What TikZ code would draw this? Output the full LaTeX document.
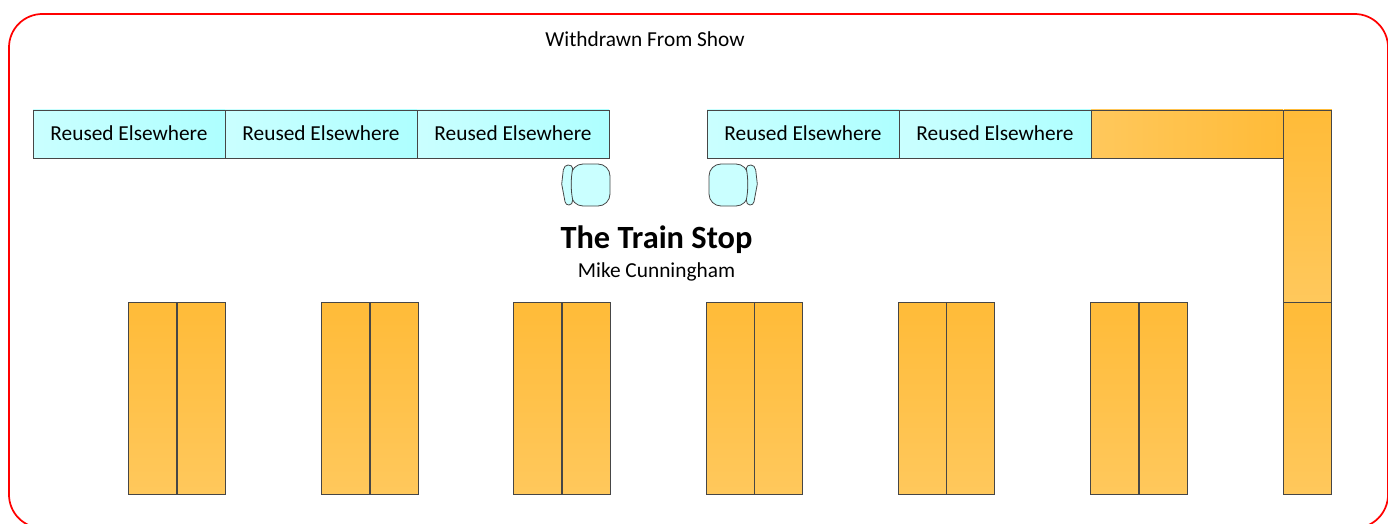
\documentclass[tikz,border=0pt]{standalone}
\usepackage{fontspec}
\setmainfont{Carlito}
\definecolor{framered}{RGB}{255,0,0}
\definecolor{edgegray}{RGB}{70,70,70}
\definecolor{cyanA}{RGB}{202,255,255}
\definecolor{cyanB}{RGB}{174,255,255}
\definecolor{orangeA}{RGB}{255,187,56}
\definecolor{orangeB}{RGB}{255,200,92}
\tikzset{
	tablev/.style={draw=edgegray,line width=0.6pt,inner sep=0pt,outer sep=0pt,anchor=north west,minimum width=36pt,minimum height=144pt,top color=orangeA,bottom color=orangeB},
	tableh/.style={draw=edgegray,line width=0.6pt,inner sep=0pt,outer sep=0pt,anchor=north west,minimum width=144pt,minimum height=36pt,left color=orangeB,right color=orangeA},
	reused/.style={draw=edgegray,line width=0.6pt,inner sep=0pt,outer sep=0pt,anchor=north west,minimum width=144pt,minimum height=36pt,left color=cyanA,right color=cyanB,text depth=1.5pt,font=\fontsize{16}{19}\selectfont},
	chairpart/.style={draw=edgegray,line width=0.6pt,fill=cyanA},
	chair/.pic={
		\draw[chairpart,rounded corners=9pt] (-19.5,-21) rectangle (19.5,21);
		\draw[chairpart] (-22.5,-20) .. controls (-25,-20) and (-26.5,-18) .. (-27.2,-15) -- (-28.8,-1) -- (-25.5,16.7) .. controls (-25,19) and (-23.5,20) .. (-21.5,20) .. controls (-19,20) and (-18,18) .. (-17.8,15) .. controls (-19.8,5) and (-19.8,-6) .. (-17.8,-16.7) .. controls (-18,-19) and (-20,-20) .. (-22.5,-20) -- cycle;
	}
}
\begin{document}
\begin{tikzpicture}[x=0.75pt,y=-0.75pt]
	\useasboundingbox (0,0) rectangle (1388,524);
	\clip (0,0) rectangle (1388,524);
	\draw[framered,line width=1.3pt,rounded corners=25pt] (9,14) rectangle (1388,528);
	\node[font=\fontsize{16}{19}\selectfont] (withdrawn) at (645,39) {Withdrawn From Show};
	% top row
	\foreach \n/\x in {a/33,b/225,c/417,d/707,e/899}
	\node[reused] (r\n) at (\x,110) {Reused Elsewhere};
	\node[tableh] (hz) at (1091,110) {};
	\node[tablev] (vup) at (1283.85,110) {};
	\node[tablev] (vdn) at (1283.85,302) {};
	% chairs
	\path (590.5,185) pic {chair};
	\path (728.5,185) pic[xscale=-1] {chair};
	\node[font=\fontsize{24.3}{29}\selectfont\bfseries] (title) at (656.5,240) {The Train Stop};
	\node[font=\fontsize{16}{19}\selectfont] (name) at (656.5,272) {Mike Cunningham};
	% bottom tables
	\foreach \x in {128.85,177,321.85,370,513.85,562,706,754,898,946.4,1090.85,1139}
	\node[tablev] at (\x,302) {};
\end{tikzpicture}
\end{document}
